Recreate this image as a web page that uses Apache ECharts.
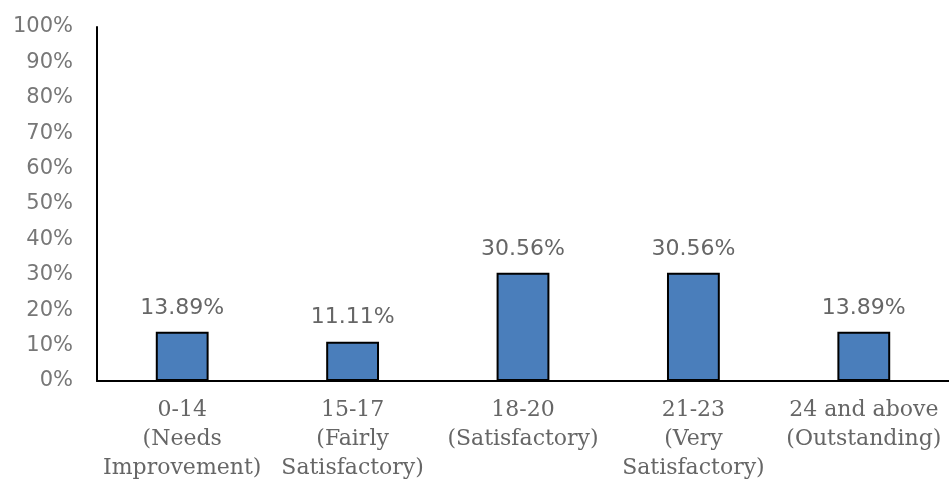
<!DOCTYPE html>
<html>
<head>
<meta charset="utf-8">
<script src="https://cdn.jsdelivr.net/npm/echarts@6/dist/echarts.min.js"></script>
<style>
html, body { margin: 0; padding: 0; background: #fff; }
#chart { width: 949px; height: 483px; }
</style>
</head>
<body>
<div id="chart"></div>
<script>
// categories and values
var categories = [
	'0-14\n(Needs\nImprovement)',
	'15-17\n(Fairly\nSatisfactory)',
	'18-20\n(Satisfactory)',
	'21-23\n(Very\nSatisfactory)',
	'24 and above\n(Outstanding)'
];
var percents = [13.89, 11.11, 30.56, 30.56, 13.89];
var yTicks = [0, 10, 20, 30, 40, 50, 60, 70, 80, 90, 100];

var chart = echarts.init(document.getElementById('chart'));

chart.setOption({
	animation: false,
	grid: {
		left: 97,
		right: 0,
		top: 27,
		bottom: 101,
		containLabel: false
	},
	xAxis: {
		type: 'category',
		data: categories,
		axisLine: { lineStyle: { color: '#000', width: 2 } },
		axisTick: { show: false },
		axisLabel: {
			interval: 0,
			margin: 15,
			color: '#666',
			fontFamily: 'DejaVu Serif',
			fontSize: 22,
			lineHeight: 29
		}
	},
	yAxis: {
		type: 'value',
		min: yTicks[0],
		max: yTicks[yTicks.length - 1],
		interval: 10,
		splitLine: { show: false },
		axisLine: { show: true, lineStyle: { color: '#000', width: 2 } },
		axisTick: { show: false },
		axisLabel: {
			margin: 24,
			color: '#777',
			fontFamily: 'DejaVu Sans',
			fontSize: 21,
			formatter: '{value}%'
		}
	},
	series: [{
		type: 'bar',
		data: percents,
		barWidth: '31%',
		itemStyle: {
			color: '#4a7ebb',
			borderColor: '#000',
			borderWidth: 2
		},
		label: {
			show: true,
			position: 'top',
			distance: 13,
			color: '#666',
			fontFamily: 'DejaVu Sans',
			fontSize: 22,
			formatter: function (p) {
				return p.value.toFixed(2) + '%';
			}
		}
	}]
});
</script>
</body>
</html>
